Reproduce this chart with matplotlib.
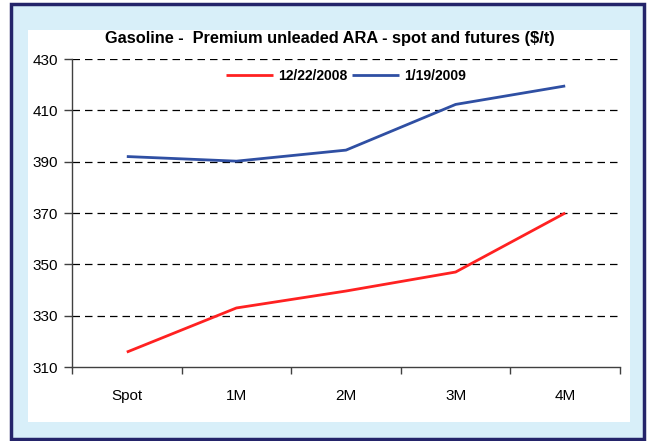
import matplotlib.pyplot as plt
from matplotlib.patches import Rectangle

# data
categories = ["Spot", "1M", "2M", "3M", "4M"]
series_dec = [315.8, 333.0, 339.6, 347.0, 370.0]   # 12/22/2008
series_jan = [392.0, 390.2, 394.5, 412.3, 419.5]   # 1/19/2009
yticks = [310, 330, 350, 370, 390, 410, 430]

plt.rcParams['font.family'] = ['Liberation Sans', 'DejaVu Sans']

W, H = 648, 441
fig = plt.figure(figsize=(W / 100, H / 100), dpi=100)
fig.patch.set_facecolor('white')

# outer light blue frame with dark navy border
fig.patches.append(Rectangle((11 / W, 1 - 439 / H), 633 / W, 435 / H, transform=fig.transFigure,
                             facecolor='#d8eff9', edgecolor='#24246a', linewidth=2.5, zorder=-2))
# white chart panel
fig.patches.append(Rectangle((28 / W, 1 - 422 / H), 602 / W, 392 / H, transform=fig.transFigure,
                             facecolor='white', edgecolor='none', zorder=-1))

ax = fig.add_axes([72 / W, 1 - 367 / H, (620 - 72) / W, (367 - 59) / H])
ax.set_facecolor('none')

x = [i + 0.5 for i in range(len(categories))]
ax.plot(x, series_dec, color='#ff2121', lw=2.0, label='12/22/2008', solid_capstyle='butt')
ax.plot(x, series_jan, color='#2f4fa3', lw=2.0, label='1/19/2009', solid_capstyle='butt')

ax.set_xlim(0, len(categories))
ax.set_ylim(310, 430)
ax.set_yticks(yticks)
ax.set_xticks(range(len(categories) + 1))
ax.set_xticklabels([])
ax.set_xticks(x, minor=True)
ax.set_xticklabels(categories, minor=True)
ax.tick_params(axis='x', which='minor', length=0, pad=16, labelsize=11)
ax.tick_params(axis='x', which='major', length=5, width=1, color='#404040', direction='out')
ax.tick_params(axis='y', length=6, width=1, color='#404040', direction='out', labelsize=11, pad=4)

for y in yticks[1:]:
    ax.axhline(y, color='black', lw=0.9, ls=(0, (6, 4)), zorder=0)

for s in ['top', 'right']:
    ax.spines[s].set_visible(False)
ax.spines['left'].set_color('#404040')
ax.spines['bottom'].set_color('#404040')
ax.spines['left'].set_linewidth(1)
ax.spines['bottom'].set_linewidth(1)

fig.text(330 / W, 1 - 38 / H, "Gasoline -  Premium unleaded ARA - spot and futures ($/t)",
         ha='center', va='center', fontsize=11.8, fontweight='bold')

leg = ax.legend(loc='center', bbox_to_anchor=(0.5, 1 - (76 - 59) / (367 - 59)), ncol=2, frameon=False,
                prop={'weight': 'bold', 'size': 10}, handlelength=3.4, handletextpad=0.4, columnspacing=0.3)

plt.savefig("out.png", dpi=100)
